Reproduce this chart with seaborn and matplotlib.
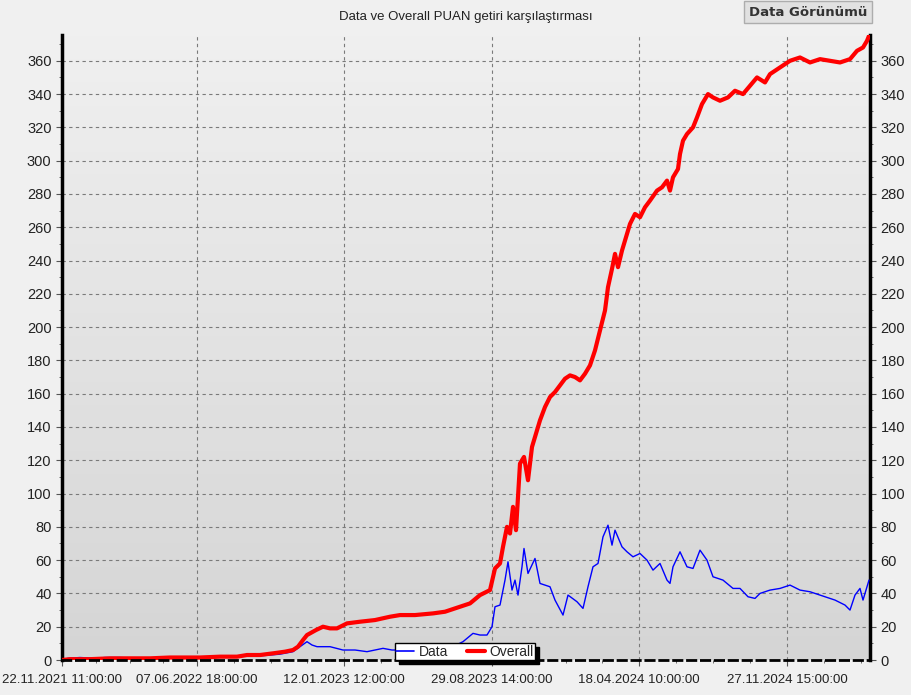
import numpy as np
import pandas as pd
import matplotlib
matplotlib.use('Agg')
import matplotlib.pyplot as plt
import seaborn as sns
from matplotlib.lines import Line2D

# bar index (trading bars) and cumulative PUAN values
overall_bar = [0, 8, 28, 48, 68, 88, 108, 138, 158, 175, 185, 198, 211, 223, 231, 236, 241, 245, 248,
               254, 261, 268, 275, 285, 298, 313, 328, 338, 353, 371, 383, 398, 408, 418, 428, 433,
               438, 441, 445, 448, 451, 454, 458, 462, 466, 470, 474, 478, 483, 488, 493, 498, 503,
               508, 513, 518, 523, 528, 533, 538, 543, 546, 550, 553, 556, 560, 565, 568, 573, 578,
               583, 588, 595, 600, 605, 608, 611, 616, 618, 621, 625, 631, 635, 640, 646, 651, 658,
               666, 673, 681, 688, 695, 703, 708, 718, 728, 738, 748, 758, 768, 778, 788, 795, 801,
               805, 807]
overall_val = [0, 0.5, 0.5, 1, 1, 1, 1.5, 1.5, 2, 2, 3, 3, 4, 5, 6, 8, 12, 15, 16,
               18, 20, 19, 19, 22, 23, 24, 26, 27, 27, 28, 29, 32, 34, 39, 42, 55,
               58, 68, 80, 76, 92, 78, 118, 122, 108, 128, 136, 144, 152, 158, 161, 165, 169,
               171, 170, 168, 172, 177, 186, 198, 210, 224, 235, 244, 236, 246, 256, 262, 268, 266,
               272, 276, 282, 284, 288, 282, 290, 295, 304, 312, 316, 320, 326, 334, 340, 338, 336,
               338, 342, 340, 345, 350, 347, 352, 356, 360, 362, 359, 361, 360, 359, 361, 366, 368,
               372, 375]

data_bar = [0, 6, 18, 33, 43, 58, 78, 98, 118, 138, 168, 198, 218, 231, 238, 245, 250, 255, 268,
            281, 293, 305, 321, 330, 338, 348, 358, 368, 383, 391, 401, 411, 418, 425, 428, 430,
            433, 438, 443, 446, 450, 453, 456, 460, 462, 466, 473, 478, 488, 493, 501, 506, 515,
            521, 526, 531, 536, 541, 546, 550, 553, 560, 565, 571, 578, 585, 591, 598, 605, 608,
            611, 618, 625, 631, 638, 645, 651, 661, 671, 678, 686, 693, 698, 708, 718, 728, 738,
            748, 758, 773, 783, 788, 793, 798, 801, 804, 807]
data_val = [0, 1, 1.5, 1, 1.5, 1.5, 1, 1, 1.2, 1.5, 2, 2.5, 3.5, 5, 8, 11, 9, 8, 8,
            6, 6, 5, 7, 6, 6, 5, 6, 5, 7, 8, 11, 16, 15, 15, 18, 20,
            32, 33, 48, 59, 42, 48, 39, 56, 67, 52, 61, 46, 44, 36, 27, 39, 35,
            31, 44, 56, 58, 74, 81, 69, 78, 68, 65, 62, 64, 60, 54, 58, 48, 46,
            56, 65, 56, 55, 66, 60, 50, 48, 43, 43, 38, 37, 40, 42, 43, 45, 42,
            41, 39, 36, 33, 30, 39, 43, 36, 42, 48]

tick_bars = [0, 135, 282, 430, 577, 725]
tick_labels = ['22.11.2021 11:00:00', '07.06.2022 18:00:00', '12.01.2023 12:00:00',
               '29.08.2023 14:00:00', '18.04.2024 10:00:00', '27.11.2024 15:00:00']

df_over = pd.DataFrame({'bar': overall_bar, 'val': overall_val})
df_data = pd.DataFrame({'bar': data_bar, 'val': data_val})

sns.set_style('white')
plt.rcParams['font.family'] = ['Liberation Sans', 'DejaVu Sans']

fig = plt.figure(figsize=(9.11, 6.95), dpi=100, facecolor='#f0f0f0')
ax = fig.add_axes([62 / 911, 35 / 695, 808 / 911, 625 / 695])

# grey gradient background like the original control
grad = np.linspace(0, 1, 256).reshape(-1, 1)
ax.imshow(grad, extent=[0, 1, 0, 1], transform=ax.transAxes, aspect='auto',
          cmap=matplotlib.colors.LinearSegmentedColormap.from_list('g', ['#f0f0f0', '#d5d5d5']),
          zorder=0)

sns.lineplot(data=df_data, x='bar', y='val', ax=ax, color='#0000ff', linewidth=1.0,
             estimator=None, sort=False, zorder=3)
sns.lineplot(data=df_over, x='bar', y='val', ax=ax, color='#ff0000', linewidth=3.0,
             estimator=None, sort=False, zorder=4)

ax.set_xlim(0, 808)
ax.set_ylim(0, 375.5)
ax.set_xlabel('')
ax.set_ylabel('')

ax.set_xticks(tick_bars)
ax.set_xticklabels(tick_labels)
minor_x = []
for a, b in zip(tick_bars[:-1], tick_bars[1:]):
    minor_x += list(np.linspace(a, b, 5)[1:-1])
minor_x += [725 + 37, 725 + 74]
ax.set_xticks(minor_x, minor=True)
ax.set_yticks(np.arange(0, 361, 20))
ax.set_yticks(np.arange(0, 376, 10), minor=True)

ax.tick_params(axis='both', which='major', labelsize=10.5, labelcolor='#222222', length=4,
               direction='out', color='#555555')
ax.tick_params(axis='both', which='minor', length=2, direction='out', color='#555555')
ax.tick_params(axis='y', which='both', left=True, right=True, labelleft=True, labelright=True)
ax.tick_params(axis='x', which='both', bottom=True, pad=6)
ax.tick_params(axis='x', which='major', labelsize=9.5)

# grid lines (skip the first x tick which sits on the axis)
for xb in tick_bars[1:]:
    ax.axvline(xb, color='#7a7a7a', linestyle=(0, (3, 3)), linewidth=0.8, zorder=1)
for yv in range(20, 361, 20):
    ax.axhline(yv, color='#7a7a7a', linestyle=(0, (3, 3)), linewidth=0.8, zorder=1)

ax.spines['top'].set_visible(False)
ax.spines['left'].set_linewidth(2.5)
ax.spines['right'].set_linewidth(2.5)
ax.spines['left'].set_color('black')
ax.spines['right'].set_color('black')
ax.spines['bottom'].set_linewidth(2.0)
ax.spines['bottom'].set_linestyle((0, (3, 2)))
ax.spines['bottom'].set_color('black')
ax.spines['bottom'].set_zorder(5)

ax.set_title('Data ve Overall PUAN getiri karşılaştırması', fontsize=9.5, pad=11, color='#222222')

handles = [Line2D([], [], color='#0000ff', linewidth=1.2),
           Line2D([], [], color='#ff0000', linewidth=3)]
leg = ax.legend(handles, ['Data', 'Overall'], loc='lower left', bbox_to_anchor=(0.412, 0.0),
                ncol=2, fontsize=10, frameon=True, fancybox=False, handlelength=1.3,
                handletextpad=0.3, columnspacing=1.4, borderpad=0.1, borderaxespad=0,
                shadow={'color': 'black', 'alpha': 1, 'ox': 3, 'oy': -3})
leg.get_frame().set_edgecolor('black')
leg.get_frame().set_facecolor('white')
leg.get_frame().set_linewidth(1.0)
leg.set_zorder(6)

# "Data Görünümü" button at the top right
fig.text(808 / 911, 683 / 695, 'Data Görünümü', fontsize=9.5, fontweight='bold',
         family='DejaVu Sans', color='#333333', ha='center', va='center',
         bbox=dict(boxstyle='square,pad=0.35', facecolor='#e1e1e1', edgecolor='#adadad'))

fig.savefig('out.png', dpi=100, facecolor=fig.get_facecolor())
